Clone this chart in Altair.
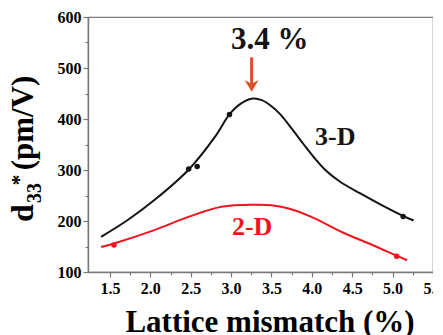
import altair as alt
import pandas as pd

# ---- data ----
curve3d_x = [1.39, 1.72, 2.05, 2.47, 2.80, 2.98, 3.12, 3.27, 3.38, 3.50, 3.61, 3.77, 3.90, 4.02, 4.18, 4.35, 4.60, 4.90, 5.14, 5.26]
curve3d_y = [169, 202, 241, 300, 365, 409, 430, 440, 437, 425, 409, 377, 350, 326, 298, 277, 254, 228, 209, 201]
pts3d_x = [2.475, 2.58, 2.98, 5.13]
pts3d_y = [302, 307, 409, 209]

curve2d_x = [1.39, 1.55, 2.05, 2.47, 2.88, 3.30, 3.50, 3.70, 3.98, 4.39, 4.75, 5.05, 5.18]
curve2d_y = [149, 156, 182, 208, 228, 232, 231, 225, 209, 177, 153, 132, 123]
pts2d_x = [1.55, 5.05]
pts2d_y = [153, 131]

x_ticks = [1.5, 1.75, 2.0, 2.25, 2.5, 2.75, 3.0, 3.25, 3.5, 3.75, 4.0, 4.25, 4.5, 4.75, 5.0, 5.25, 5.5]
y_ticks = [100, 150, 200, 250, 300, 350, 400, 450, 500, 550, 600]

series_labels = ["3-D", "2-D"]
peak_label = ["3.4 %"]
x_title = ["Lattice mismatch (%)"]
y_title_parts = ["d", "33", "*", "(pm/V)"]

FONT = "Liberation Serif, Times New Roman, DejaVu Serif, serif"
GRAY = "#7a7a7a"
BLACK = "#141414"
RED = "#f0141e"
ORANGE = "#d9532b"

xscale = alt.Scale(domain=[1.228, 5.5], nice=False, zero=False)
yscale = alt.Scale(domain=[100, 600], nice=False, zero=False)

x_major = "abs(datum.value*2 - round(datum.value*2)) < 0.001"
y_major = "datum.value % 100 === 0"

xaxis = alt.Axis(
    values=x_ticks, title=None, grid=False,
    labelExpr=f"{x_major} ? format(datum.value, '.1f') : ''",
    tickSize={"condition": {"test": x_major, "value": 5}, "value": 3},
    labelFlush=False, labelOverlap=False, labelPadding=3,
)
yaxis = alt.Axis(
    values=y_ticks, title=None, grid=False,
    labelExpr=f"{y_major} ? datum.label : ''",
    tickSize={"condition": {"test": y_major, "value": 5}, "value": 3},
    labelOverlap=False, labelPadding=2,
)

X = alt.X("x:Q", scale=xscale, axis=xaxis)
Y = alt.Y("y:Q", scale=yscale, axis=yaxis)

df3 = pd.DataFrame({"x": curve3d_x, "y": curve3d_y})
df3p = pd.DataFrame({"x": pts3d_x, "y": pts3d_y})
df2 = pd.DataFrame({"x": curve2d_x, "y": curve2d_y})
df2p = pd.DataFrame({"x": pts2d_x, "y": pts2d_y})

line3 = alt.Chart(df3).mark_line(color=BLACK, strokeWidth=2, interpolate="catmull-rom").encode(x=X, y=Y)
pt3 = alt.Chart(df3p).mark_point(color=BLACK, filled=True, size=30, opacity=1).encode(x=X, y=Y)
line2 = alt.Chart(df2).mark_line(color=RED, strokeWidth=2, interpolate="catmull-rom").encode(x=X, y=Y)
pt2 = alt.Chart(df2p).mark_point(color=RED, filled=True, size=30, opacity=1).encode(x=X, y=Y)

lab3 = alt.Chart(pd.DataFrame({"x": [4.29], "y": [365], "t": [series_labels[0]]})).mark_text(
    font=FONT, fontWeight="bold", fontSize=26, color=BLACK, baseline="middle"
).encode(x=X, y=Y, text="t:N")
lab2 = alt.Chart(pd.DataFrame({"x": [3.26], "y": [188], "t": [series_labels[1]]})).mark_text(
    font=FONT, fontWeight="bold", fontSize=26, color=RED, baseline="middle"
).encode(x=X, y=Y, text="t:N")

peak = alt.Chart(pd.DataFrame({"x": [3.48], "y": [555], "t": peak_label})).mark_text(
    font=FONT, fontWeight="bold", fontSize=31, color=BLACK, baseline="middle"
).encode(x=X, y=Y, text="t:N")

arrow_shaft = alt.Chart(pd.DataFrame({"x": [3.254], "y": [521], "y2": [468]})).mark_rule(
    color=ORANGE, strokeWidth=3
).encode(x=X, y=Y, y2="y2:Q")
arrow_head = alt.Chart(pd.DataFrame({"x": [3.254], "y": [465]})).mark_point(
    shape="M-1,-0.85L0,0.85L1,-0.85L0,-0.3Z", filled=True, size=196, color=ORANGE, opacity=1
).encode(x=X, y=Y)

one = pd.DataFrame({"a": [0]})


def txt(s, px, py, size, angle=0, baseline="alphabetic"):
    return alt.Chart(one).mark_text(
        text=s, font=FONT, fontWeight="bold", fontSize=size, color="black",
        angle=angle, align="center", baseline=baseline,
    ).encode(x=alt.value(px), y=alt.value(py))


xt = txt(x_title[0], 182, 315, 31)
yt_d = txt(y_title_parts[0], -55, 196, 32, angle=270)
yt_sub = txt(y_title_parts[1], -47, 176, 20, angle=270)
yt_star = txt(y_title_parts[2], -62, 163, 22, angle=270)
yt_main = txt(y_title_parts[3], -55, 106, 31, angle=270)

chart = alt.layer(
    line3, line2, pt3, pt2, lab3, lab2, peak, arrow_shaft, arrow_head,
    xt, yt_d, yt_sub, yt_star, yt_main,
).properties(
    width=345, height=255,
    autosize=alt.AutoSizeParams(type="none"),
    padding={"left": 80, "top": 9, "right": 0, "bottom": 63},
    background="white",
).configure_view(
    stroke=GRAY, strokeWidth=1.2
).configure_axis(
    labelFont=FONT, labelFontWeight="bold", labelFontSize=16, labelColor="black",
    domainColor=GRAY, domainWidth=1.5, tickColor=GRAY, tickWidth=1.2,
)

chart.save("out.html", embed_options={"renderer": "svg", "actions": False})
